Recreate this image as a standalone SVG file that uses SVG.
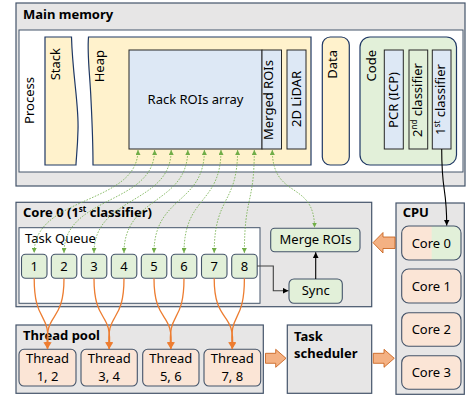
<svg xmlns="http://www.w3.org/2000/svg" width="466" height="401" viewBox="0 0 466 401">
<style>
text{font-family:"Noto Sans","Open Sans",sans-serif;font-size:13px;fill:#000}
.b{font-weight:bold;fill:#000}
.m{text-anchor:middle}
.e{text-anchor:end}
.gray{fill:#e7e6e6;stroke:#44546a;stroke-width:1.2}
.white{fill:#fff;stroke:#44546a;stroke-width:1}
.cream{fill:#fff2cc;stroke:#1f3864;stroke-width:1.2}
.blue{fill:#dde8f5;stroke:#262626;stroke-width:1}
.grn{fill:#e2f0d9;stroke:#262626;stroke-width:1}
.task{fill:#e2f0d9;stroke:#44546a;stroke-width:1.1}
.sal{fill:#fbe5d6;stroke:#44546a;stroke-width:1.1}
.dot{fill:none;stroke:#70ad47;stroke-width:0.8;stroke-dasharray:1.6 1.4}
.org{fill:none;stroke:#ed7d31;stroke-width:1.3}
.blk{fill:none;stroke:#000;stroke-width:1.1}
.dk{fill:none;stroke:#404040;stroke-width:1.1}
.big{fill:#f4b183;stroke:#c55a11;stroke-width:0.8}
</style>
<defs>
<marker id="ga" viewBox="0 0 10 10" refX="10" refY="5" markerWidth="5" markerHeight="5" orient="auto-start-reverse" markerUnits="userSpaceOnUse"><path d="M0,0L10,5L0,10Z" fill="#70ad47"/></marker>
<marker id="oa" viewBox="0 0 10 10" refX="10" refY="5" markerWidth="7" markerHeight="7" orient="auto" markerUnits="userSpaceOnUse"><path d="M0,0L10,5L0,10Z" fill="#ed7d31"/></marker>
<marker id="ba" viewBox="0 0 10 10" refX="10" refY="5" markerWidth="6" markerHeight="6" orient="auto" markerUnits="userSpaceOnUse"><path d="M0,0L10,5L0,10Z" fill="#000"/></marker>
</defs>

<g id="main-memory">
<rect class="gray" x="16" y="3" width="449" height="183"/>
<text class="b" x="23" y="18.5">Main memory</text>
<rect class="white" x="19" y="30" width="444" height="142"/>
<text class="m" transform="translate(34,100.5) rotate(-90)">Process</text>
</g>
<g id="stack">
<path class="cream" d="M45,37 L71.5,37 C72.5,75 79,105 78,130 C77.5,150 76,160 76,165 L45,165 Z"/>
<text class="e" transform="translate(60,48) rotate(-90)">Stack</text>
</g>
<g id="heap">
<path class="cream" d="M88.5,37 L311,37 L311,165 L93,165 C93,140 92,120 91,100 C90,75 87,55 88.5,37 Z"/>
<text class="e" transform="translate(103.5,50) rotate(-90)">Heap</text>
</g>
<g id="rack-rois">
<rect class="blue" x="129" y="50" width="133" height="99"/>
<text class="m" x="195.5" y="103.5">Rack ROIs array</text>
</g>
<g id="merged-rois">
<rect class="blue" x="262" y="50" width="19.5" height="99"/>
<text class="m" transform="translate(273,100) rotate(-90)">Merged ROIs</text>
</g>
<g id="lidar">
<rect class="blue" x="287" y="50" width="19" height="99"/>
<text class="m" transform="translate(300.5,99) rotate(-90)">2D LiDAR</text>
</g>
<g id="data">
<rect class="cream" x="322.3" y="37" width="27" height="128" rx="8"/>
<text class="e" transform="translate(337,50) rotate(-90)">Data</text>
</g>
<g id="code">
<rect fill="#e2f0d9" stroke="#1f3864" stroke-width="1.2" x="360" y="37" width="96.5" height="128" rx="10"/>
<text class="e" transform="translate(375.5,50) rotate(-90)">Code</text>
</g>
<g id="pcr">
<rect class="blue" x="384.3" y="50" width="19" height="99"/>
<text class="m" transform="translate(397.5,100) rotate(-90)">PCR (ICP)</text>
</g>
<g id="classifier2">
<rect class="grn" x="409" y="50" width="18.7" height="99"/>
<text class="m" transform="translate(422,100) rotate(-90)">2<tspan font-size="8" dy="-5">nd</tspan><tspan dy="5"> classifier</tspan></text>
</g>
<g id="classifier1">
<rect class="blue" x="432.3" y="50" width="18.7" height="99"/>
<text class="m" transform="translate(445,99.5) rotate(-90)">1<tspan font-size="8" dy="-5">st</tspan><tspan dy="5"> classifier</tspan></text>
</g>

<g id="core0-box">
<rect class="gray" x="16" y="202.3" width="355.7" height="104.4"/>
<text class="b" x="23" y="217.3">Core 0 (1<tspan font-size="8" dy="-5">st</tspan><tspan dy="5"> classifier)</tspan></text>
</g>
<g id="task-queue">
<rect class="white" x="19" y="227.7" width="241" height="75.6"/>
<text x="25" y="243">Task Queue</text>
</g>
<g id="task1"><rect class="task" x="21.5" y="254.3" width="25.5" height="24" rx="4"/><text class="m" x="34.2" y="271">1</text></g>
<g id="task2"><rect class="task" x="51.3" y="254.3" width="25.5" height="24" rx="4"/><text class="m" x="64" y="271">2</text></g>
<g id="task3"><rect class="task" x="81.3" y="254.3" width="25.5" height="24" rx="4"/><text class="m" x="94" y="271">3</text></g>
<g id="task4"><rect class="task" x="111.3" y="254.3" width="25.5" height="24" rx="4"/><text class="m" x="124" y="271">4</text></g>
<g id="task5"><rect class="task" x="141.3" y="254.3" width="25.5" height="24" rx="4"/><text class="m" x="154" y="271">5</text></g>
<g id="task6"><rect class="task" x="171.3" y="254.3" width="25.5" height="24" rx="4"/><text class="m" x="184" y="271">6</text></g>
<g id="task7"><rect class="task" x="201.5" y="254.3" width="25.5" height="24" rx="4"/><text class="m" x="214.2" y="271">7</text></g>
<g id="task8"><rect class="task" x="231.7" y="254.3" width="25.5" height="24" rx="4"/><text class="m" x="244.4" y="271">8</text></g>
<g id="merge-rois"><rect class="task" x="270.7" y="228.3" width="89.3" height="23.4" rx="4"/><text class="m" x="315.5" y="244">Merge ROIs</text></g>
<g id="sync"><rect class="task" x="289" y="279" width="53.3" height="24.3" rx="5"/><text class="m" x="315.7" y="295">Sync</text></g>

<g id="thread-pool">
<rect class="gray" x="16" y="325" width="247.3" height="68.3"/>
<text class="b" x="23" y="340">Thread pool</text>
</g>
<g id="thread12"><rect class="sal" x="19" y="349.3" width="57" height="36.7" rx="5"/><text class="m" x="47.5" y="362.5">Thread</text><text class="m" x="47.5" y="380.5">1, 2</text></g>
<g id="thread34"><rect class="sal" x="81" y="349.3" width="56.3" height="36.7" rx="5"/><text class="m" x="109.2" y="362.5">Thread</text><text class="m" x="109.2" y="380.5">3, 4</text></g>
<g id="thread56"><rect class="sal" x="142.7" y="349.3" width="56.3" height="36.7" rx="5"/><text class="m" x="170.8" y="362.5">Thread</text><text class="m" x="170.8" y="380.5">5, 6</text></g>
<g id="thread78"><rect class="sal" x="204" y="349.3" width="56.7" height="36.7" rx="5"/><text class="m" x="232.3" y="362.5">Thread</text><text class="m" x="232.3" y="380.5">7, 8</text></g>

<g id="task-scheduler">
<rect class="gray" x="287.3" y="325" width="84.4" height="68.3"/>
<text class="b" x="294" y="340.7">Task</text>
<text class="b" x="294" y="358.3">scheduler</text>
</g>

<g id="cpu">
<rect class="gray" x="396" y="203" width="68.3" height="191.3"/>
<text class="b" x="402.7" y="216.7">CPU</text>
</g>
<g id="cpu-core0">
<rect x="401.7" y="226" width="59.3" height="34" rx="7" fill="#e2f0d9"/>
<path d="M431.7,226 L408.7,226 A7,7 0 0 0 401.7,233 L401.7,253 A7,7 0 0 0 408.7,260 L431.7,260 Z" fill="#fbe5d6"/>
<rect x="401.7" y="226" width="59.3" height="34" rx="7" fill="none" stroke="#44546a" stroke-width="1.1"/>
<text class="m" x="431.3" y="248">Core 0</text>
</g>
<g id="cpu-core1"><rect class="sal" x="401.7" y="269" width="59.3" height="34" rx="7"/><text class="m" x="431.3" y="290.7">Core 1</text></g>
<g id="cpu-core2"><rect class="sal" x="401.7" y="312.7" width="59.3" height="33.5" rx="7"/><text class="m" x="431.3" y="334">Core 2</text></g>
<g id="cpu-core3"><rect class="sal" x="401.7" y="355.7" width="59.3" height="33.5" rx="7"/><text class="m" x="431.3" y="376.7">Core 3</text></g>

<g id="connectors">
<path class="dot" marker-start="url(#ga)" marker-end="url(#ga)" d="M138,150 C138,205 34.2,195 34.2,253"/>
<path class="dot" marker-start="url(#ga)" marker-end="url(#ga)" d="M154.6,150 C154.6,205 64,195 64,253"/>
<path class="dot" marker-start="url(#ga)" marker-end="url(#ga)" d="M171.2,150 C171.2,205 94,195 94,253"/>
<path class="dot" marker-start="url(#ga)" marker-end="url(#ga)" d="M187.8,150 C187.8,205 124,195 124,253"/>
<path class="dot" marker-start="url(#ga)" marker-end="url(#ga)" d="M204.4,150 C204.4,205 154,195 154,253"/>
<path class="dot" marker-start="url(#ga)" marker-end="url(#ga)" d="M221,150 C221,205 184,195 184,253"/>
<path class="dot" marker-start="url(#ga)" marker-end="url(#ga)" d="M237.6,150 C237.6,205 214.2,195 214.2,253"/>
<path class="dot" marker-start="url(#ga)" marker-end="url(#ga)" d="M254.3,150 C254.3,205 244.4,195 244.4,253"/>
<path class="dot" marker-start="url(#ga)" marker-end="url(#ga)" d="M272.3,150 C272.3,200 314.5,180 314.5,227.5"/>

<path class="org" marker-end="url(#oa)" d="M34.2,278.3 C34.2,325 51,310 47.5,349"/>
<path class="org" marker-end="url(#oa)" d="M64,278.3 C64,325 44,310 47.5,349"/>
<path class="org" marker-end="url(#oa)" d="M94,278.3 C94,325 112.7,310 109.2,349"/>
<path class="org" marker-end="url(#oa)" d="M124,278.3 C124,325 105.7,310 109.2,349"/>
<path class="org" marker-end="url(#oa)" d="M154,278.3 C154,325 174.3,310 170.8,349"/>
<path class="org" marker-end="url(#oa)" d="M184,278.3 C184,325 167.3,310 170.8,349"/>
<path class="org" marker-end="url(#oa)" d="M214.2,278.3 C214.2,325 235.8,310 232.3,349"/>
<path class="org" marker-end="url(#oa)" d="M244.4,278.3 C244.4,325 228.8,310 232.3,349"/>

<path class="dk" marker-end="url(#ba)" d="M257.2,266 L273.3,266 L273.3,290.7 L288.5,290.7"/>
<path class="blk" marker-end="url(#ba)" d="M315.7,279 L315.7,252.3"/>
<path class="blk" marker-end="url(#ba)" d="M441.7,149 C441.7,195 446.7,185 446.7,225.5"/>

<polygon class="big" points="373,242.7 383,232.5 383,237 395,237 395,248.5 383,248.5 383,253"/>
<polygon class="big" points="286,358.3 275.7,349.3 275.7,353.3 265.5,353.3 265.5,363.3 275.7,363.3 275.7,367.3"/>
<polygon class="big" points="394.3,358.3 384,349.3 384,353.3 373.3,353.3 373.3,363.3 384,363.3 384,367.3"/>
</g>
</svg>
